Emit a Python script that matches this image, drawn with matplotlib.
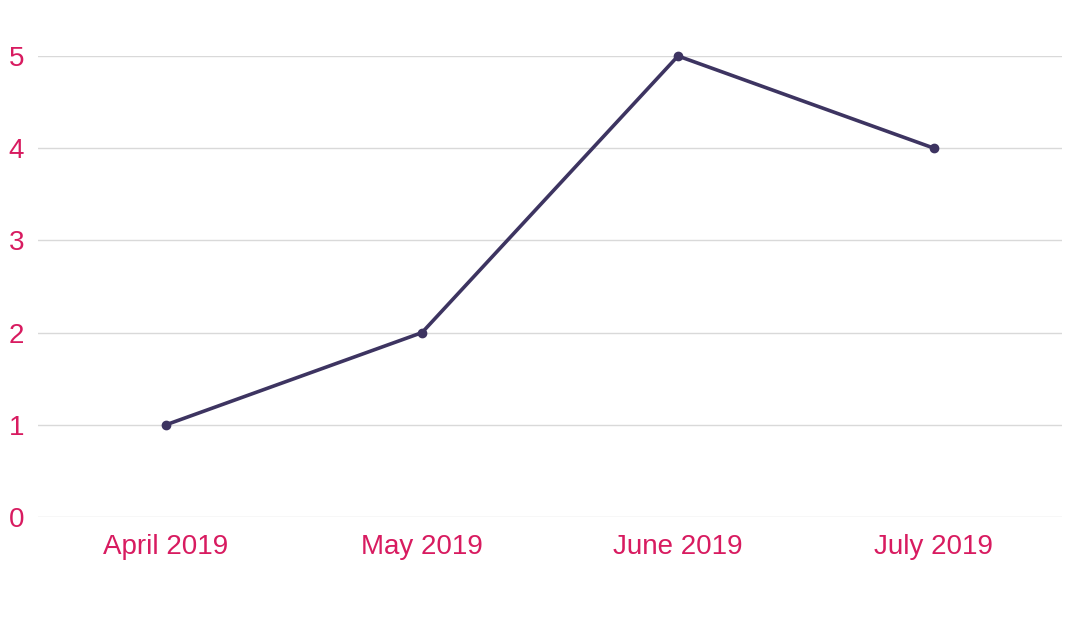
import matplotlib
matplotlib.use('Agg')
from matplotlib import pyplot as plt

months = ['April 2019', 'May 2019', 'June 2019', 'July 2019']
values = [1, 2, 5, 4]
yticks = [0, 1, 2, 3, 4, 5]

plt.rcParams['font.family'] = ['Liberation Sans', 'DejaVu Sans']
fig = plt.figure(figsize=(10.75, 6.19), dpi=100)
ax = fig.add_axes([38 / 1075, 102 / 619, 1024 / 1075, 461 / 619])
x = range(len(months))
ax.plot(x, values, color='#3d3461', linewidth=2.6, marker='o', markersize=6,
        zorder=3, clip_on=False)
ax.set_xlim(-0.5, len(months) - 0.5)
ax.set_ylim(0, 5)
ax.set_xticks(list(x))
ax.set_xticklabels(months)
ax.set_yticks(yticks)
ax.grid(axis='y', color='#d9d9d9', linewidth=1)
ax.tick_params(length=0, labelsize=20, labelcolor='#d81b60')
ax.tick_params(axis='x', pad=12)
ax.tick_params(axis='y', pad=10)
for s in ax.spines.values():
    s.set_visible(False)
fig.savefig('out.png', dpi=100)
